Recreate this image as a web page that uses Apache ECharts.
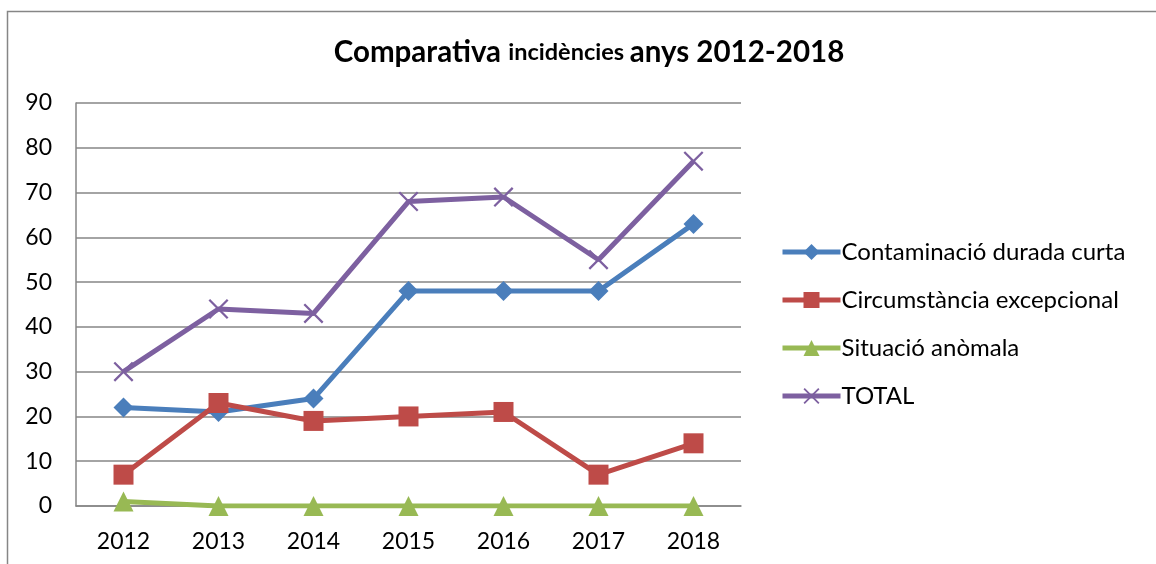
<!DOCTYPE html>
<html><head><meta charset="utf-8">
<script src="https://cdn.jsdelivr.net/npm/echarts@6/dist/echarts.min.js"></script>
<style>html,body{margin:0;padding:0;background:#fff}#c{width:1156px;height:564px}</style>
</head><body><div id="c"></div>
<script>
const years = ['2012','2013','2014','2015','2016','2017','2018'];
const contaminacio = [22,21,24,48,48,48,63];
const circumstancia = [7,23,19,20,21,7,14];
const situacio = [1,0,0,0,0,0,0];
const total = [30,44,43,68,69,55,77];
const names = ['Contaminació durada curta','Circumstància excepcional','Situació anòmala','TOTAL'];
const colors = ['#4A7EBB','#BE4B48','#98B954','#7D60A0'];
const FONT = 'Lato, "Open Sans", sans-serif';
const xPath = 'path://M0,0.8 L0.8,0 L10,9.2 L9.2,10 Z M9.2,0 L10,0.8 L0.8,10 L0,9.2 Z';

const chart = echarts.init(document.getElementById('c'));
const mk = (name, data, color, symbol, size) => ({
  name, type:'line', data, symbol, symbolSize:size,
  lineStyle:{color, width:5}, itemStyle:{color},
  emphasis:{disabled:true}, animation:false
});
chart.setOption({
  animation:false,
  textStyle:{fontFamily:FONT},
  title:{
    text:'{a|Comparativa }{b|incidències }{a|anys 2012-2018}',
    left:584, textAlign:'center', top:32,
    textStyle:{rich:{
      a:{fontSize:29.5, fontWeight:'bold', color:'#000', fontFamily:FONT},
      b:{fontSize:23.5, fontWeight:'bold', color:'#000', fontFamily:FONT}
    }}
  },
  graphic:[{type:'rect', shape:{x:7.5,y:11.5,width:1300,height:700}, style:{fill:'none', stroke:'#868686', lineWidth:1.5}, silent:true}],
  legend:{
    orient:'vertical', left:780, top:240, padding:0, itemWidth:58, itemHeight:20, itemGap:24,
    data:names, lineStyle:{width:5},
    textStyle:{fontSize:24, color:'#000', fontFamily:FONT, padding:[0,0,0,-4]}
  },
  grid:{left:76, right:415, top:103, bottom:58, containLabel:false},
  xAxis:{
    type:'category', data:years, boundaryGap:true,
    axisLine:{lineStyle:{color:'#868686', width:1.5}},
    axisTick:{show:false},
    axisLabel:{fontSize:23, color:'#000', margin:24, fontFamily:FONT}
  },
  yAxis:{
    type:'value', min:0, max:90, interval:10,
    axisLine:{show:true, lineStyle:{color:'#868686', width:1.5}},
    axisTick:{show:false},
    splitLine:{lineStyle:{color:'#868686', width:1.5}},
    axisLabel:{fontSize:23, color:'#000', margin:24, fontFamily:FONT}
  },
  series:[
    mk(names[0], contaminacio, colors[0], 'diamond', 20),
    mk(names[1], circumstancia, colors[1], 'rect', 20),
    mk(names[2], situacio, colors[2], 'triangle', 20),
    mk(names[3], total, colors[3], xPath, 20)
  ]
});
</script></body></html>
